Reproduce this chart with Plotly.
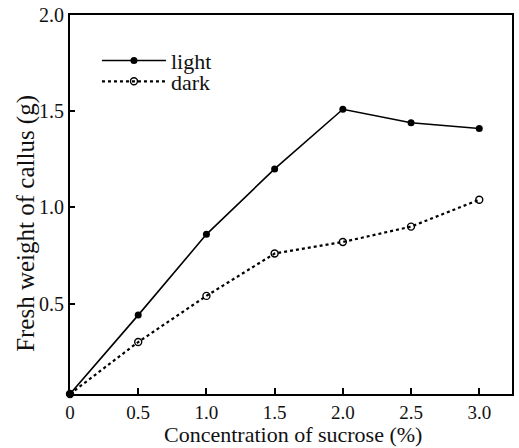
import plotly.graph_objects as go

sucrose = [0, 0.5, 1.0, 1.5, 2.0, 2.5, 3.0]
light = [0.03, 0.44, 0.86, 1.20, 1.51, 1.44, 1.41]
dark = [0.03, 0.30, 0.54, 0.76, 0.82, 0.90, 1.04]
x_ticks = [0, 0.5, 1.0, 1.5, 2.0, 2.5, 3.0]
x_ticktext = ["0", "0.5", "1.0", "1.5", "2.0", "2.5", "3.0"]
y_ticks = [0.5, 1.0, 1.5, 2.0]
y_ticktext = ["0.5", "1.0", "1.5", "2.0"]
x_title = "Concentration of sucrose (%)"
y_title = "Fresh weight of callus (g)"

font_family = "Liberation Serif"

fig = go.Figure()
fig.add_trace(go.Scatter(
    x=sucrose, y=light, name="light", mode="lines+markers",
    line=dict(color="black", width=1.6),
    marker=dict(symbol="circle", size=7, color="black"),
    cliponaxis=False, legend="legend", showlegend=True,
))
fig.add_trace(go.Scatter(
    x=sucrose, y=dark, name="dark", mode="lines+markers",
    line=dict(color="black", width=2.2, dash="dot"),
    marker=dict(symbol="circle-open", size=7, color="black", line=dict(width=1.4)),
    cliponaxis=False, legend="legend2", showlegend=True,
))

legend_common = dict(
    xanchor="left", yanchor="top", bgcolor="rgba(0,0,0,0)",
    font=dict(size=22, family=font_family), itemwidth=64, visible=True,
)

fig.update_layout(
    width=519, height=448,
    showlegend=True,
    margin=dict(l=70, r=7, t=15, b=54, autoexpand=False),
    paper_bgcolor="white", plot_bgcolor="white",
    font=dict(family=font_family, size=19, color="#111"),
    legend=dict(x=0.061, y=0.935, **legend_common),
    legend2=dict(x=0.061, y=0.88, **legend_common),
    xaxis=dict(
        range=[0, 3.24], tickvals=x_ticks, ticktext=x_ticktext,
        ticks="inside", ticklen=6, tickwidth=2, tickcolor="black",
        showline=True, linecolor="black", linewidth=2, mirror=True,
        showgrid=False, zeroline=False, automargin=False,
        tickfont=dict(family=font_family, size=19),
    ),
    yaxis=dict(
        range=[0.03, 2.0], tickvals=y_ticks, ticktext=y_ticktext,
        ticks="inside", ticklen=5, tickwidth=2, tickcolor="black",
        showline=True, linecolor="black", linewidth=2, mirror=True,
        showgrid=False, zeroline=False, automargin=False,
        tickfont=dict(family=font_family, size=20),
    ),
)

fig.add_annotation(
    text=x_title, xref="paper", yref="paper", x=0.505, y=-0.144,
    xanchor="center", yanchor="bottom", showarrow=False,
    font=dict(family=font_family, size=22, color="#111"),
)
fig.add_annotation(
    text=y_title, xref="paper", yref="paper", x=-0.100, y=0.451,
    xanchor="center", yanchor="middle", showarrow=False, textangle=-90,
    font=dict(family=font_family, size=25, color="#111"),
)

fig.write_html("out.html", config={"displayModeBar": False},
               post_script="document.body.style.margin='0px';")
